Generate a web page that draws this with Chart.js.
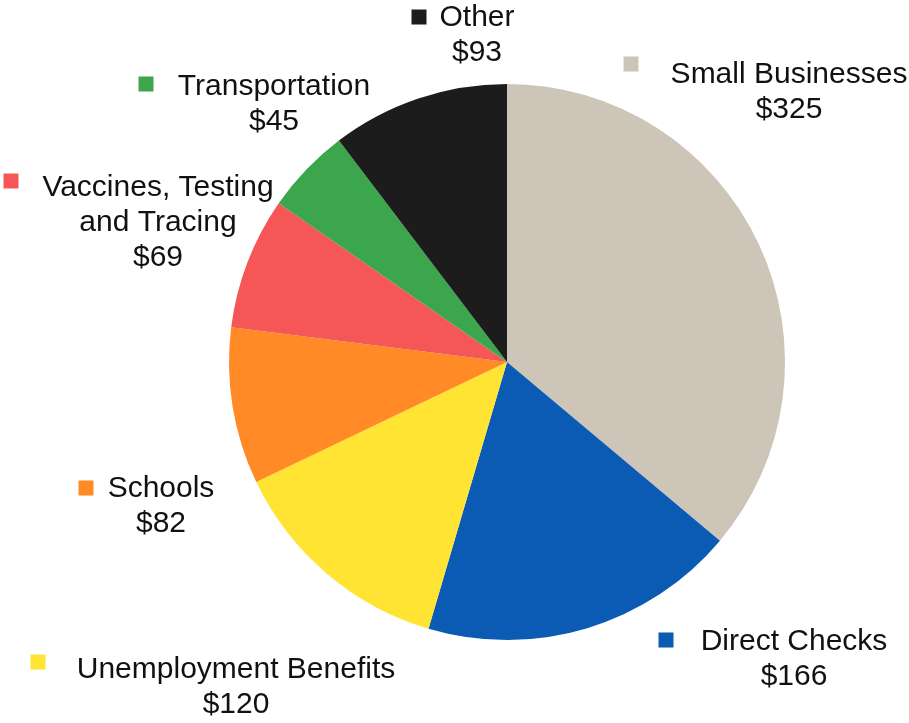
<!DOCTYPE html>
<html>
<head>
<meta charset="utf-8">
<title>Relief package spending</title>
<script src="https://cdn.jsdelivr.net/npm/chart.js@4.4.1/dist/chart.umd.min.js"></script>
<style>
  html, body { margin: 0; padding: 0; background: #fff; }
  #pie { display: block; }
</style>
</head>
<body>
<canvas id="pie" width="909" height="723"></canvas>
<script>
// spending categories, clockwise from 12 o'clock (billions)
var categories = ["Small Businesses", "Direct Checks", "Unemployment Benefits", "Schools",
                  "Vaccines, Testing and Tracing", "Transportation", "Other"];
var amounts = [325, 166, 120, 82, 69, 45, 93];
var sliceColors = ["#cdc5b7", "#0b5bb4", "#ffe433", "#ff8a26", "#f55656", "#3ba64b", "#1c1c1c"];

// how each category name is broken into lines
var labelLines = [
    ["Small Businesses"],
    ["Direct Checks"],
    ["Unemployment Benefits"],
    ["Schools"],
    ["Vaccines, Testing", "and Tracing"],
    ["Transportation"],
    ["Other"]
];

// label placement, offsets in px from the pie centre
// t = centre of the text block's first line, m = centre of the colour square
var labelSpots = [
    { tx: 282, ty: -287, mx: 124, my: -298 },
    { tx: 287, ty: 280, mx: 159, my: 278 },
    { tx: -271, ty: 308, mx: -469, my: 300 },
    { tx: -346, ty: 127, mx: -421, my: 126 },
    { tx: -349, ty: -174, mx: -496, my: -181 },
    { tx: -233, ty: -275, mx: -361, my: -278 },
    { tx: -30, ty: -344, mx: -88, my: -345 }
];

var sliceLabels = {
    id: 'sliceLabels',
    afterDraw: function(chart) {
        var ctx = chart.ctx;
        var arcs = chart.getDatasetMeta(0).data;
        var cx = arcs[0].x, cy = arcs[0].y;
        var lineH = 35, box = 15;
        ctx.save();
        ctx.font = '30px "Liberation Sans", Arial, sans-serif';
        ctx.textAlign = 'center';
        ctx.textBaseline = 'middle';
        for (var i = 0; i < arcs.length; i++) {
            var spot = labelSpots[i];
            ctx.fillStyle = sliceColors[i];
            ctx.fillRect(cx + spot.mx - box / 2, cy + spot.my - box / 2, box, box);
            ctx.fillStyle = '#111';
            var lines = labelLines[i].concat(['$' + amounts[i]]);
            for (var j = 0; j < lines.length; j++) {
                ctx.fillText(lines[j], cx + spot.tx, cy + spot.ty + j * lineH);
            }
        }
        ctx.restore();
    }
};

var graph = new Chart(document.getElementById('pie'), {
    type: 'pie',
    data: {
        labels: categories,
        datasets: [{
            data: amounts,
            backgroundColor: sliceColors,
            borderWidth: 0
        }]
    },
    options: {
        responsive: false,
        animation: false,
        layout: { padding: { left: 229, right: 124, top: 84, bottom: 83 } },
        plugins: {
            legend: { display: false },
            tooltip: { enabled: false }
        }
    },
    plugins: [sliceLabels]
});
</script>
</body>
</html>
